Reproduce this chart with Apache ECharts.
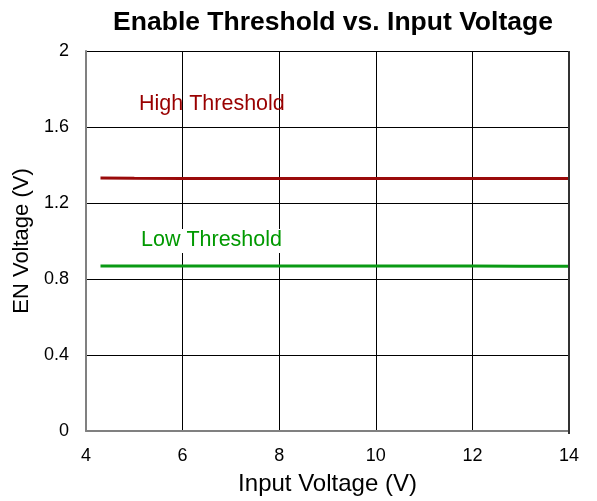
<!DOCTYPE html>
<html>
<head>
<meta charset="utf-8">
<script src="https://cdn.jsdelivr.net/npm/echarts@6/dist/echarts.min.js"></script>
<style>
html,body{margin:0;padding:0;background:#fff;}
#main{width:597px;height:501px;}
</style>
</head>
<body>
<div id="main"></div>
<script>
// input voltage (V)
var vin = [4.3, 5, 6, 7, 8, 9, 10, 11, 12, 13, 14];
// EN thresholds (V)
var highTh = [1.332, 1.330, 1.329, 1.329, 1.329, 1.329, 1.329, 1.329, 1.329, 1.329, 1.329];
var lowTh = [0.868, 0.868, 0.868, 0.868, 0.868, 0.868, 0.868, 0.868, 0.868, 0.867, 0.867];

function pairs(xs, ys){
	var out = [];
	for (var i = 0; i < xs.length; i++) out.push([xs[i], ys[i]]);
	return out;
}

var font = 'Liberation Sans, Arial, sans-serif';
var myChart = echarts.init(document.getElementById('main'));
var option = {
	animation: false,
	title: {
		text: 'Enable Threshold vs. Input Voltage',
		left: 328, top: 4, textAlign: 'center',
		textStyle: {fontFamily: font, fontSize: 26.5, fontWeight: 'bold', color: '#000'}
	},
	grid: {left: 86, right: 28, top: 51, bottom: 67},
	xAxis: {
		type: 'value', min: 4, max: 14, interval: 2,
		name: 'Input Voltage (V)', nameLocation: 'middle', nameGap: 41,
		nameTextStyle: {fontFamily: font, fontSize: 24, color: '#000'},
		axisLine: {show: true, lineStyle: {color: '#808080', width: 2}},
		axisTick: {show: false},
		axisLabel: {fontFamily: font, fontSize: 18, color: '#000', margin: 16},
		splitLine: {show: true, lineStyle: {color: '#000', width: 1}}
	},
	yAxis: {
		type: 'value', min: 0, max: 2, interval: 0.4,
		name: 'EN Voltage (V)', nameLocation: 'middle', nameGap: 50,
		nameTextStyle: {fontFamily: font, fontSize: 22, color: '#000'},
		axisLine: {show: true, lineStyle: {color: '#808080', width: 2}},
		axisTick: {show: false},
		axisLabel: {fontFamily: font, fontSize: 18, color: '#000', margin: 17,
			formatter: function(v){ return String(Math.round(v * 10) / 10); }},
		splitLine: {show: true, lineStyle: {color: '#000', width: 1}}
	},
	graphic: [
		{type: 'rect', shape: {x: 568, y: 51, width: 2, height: 383}, style: {fill: '#333'}, z: 10},
		{type: 'rect', shape: {x: 138, y: 229, width: 152, height: 24}, style: {fill: '#fff'}, z: 50},
		{type: 'text', left: 139, top: 93, z: 60,
			style: {text: 'High Threshold', fill: '#990000', font: '21.5px ' + font}},
		{type: 'text', left: 141, top: 229, z: 60,
			style: {text: 'Low Threshold', fill: '#009900', font: '21.5px ' + font}}
	],
	series: [
		{name: 'High Threshold', type: 'line', data: pairs(vin, highTh), showSymbol: false,
			lineStyle: {color: '#9a0a0a', width: 3}, z: 5},
		{name: 'Low Threshold', type: 'line', data: pairs(vin, lowTh), showSymbol: false,
			lineStyle: {color: '#0a9a14', width: 3}, z: 5}
	]
};
myChart.setOption(option);
</script>
</body>
</html>
